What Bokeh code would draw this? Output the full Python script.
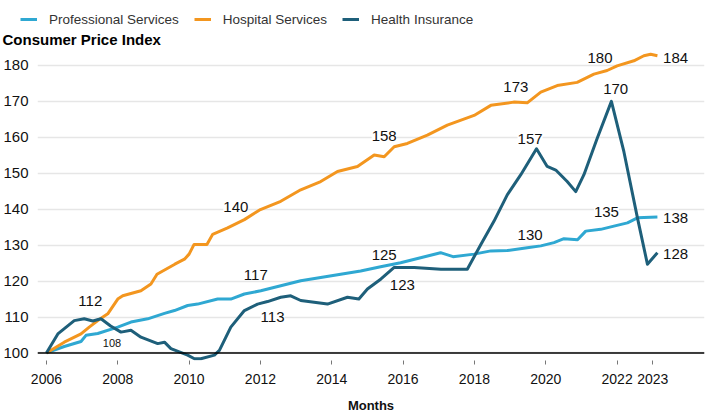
from bokeh.plotting import figure
from bokeh.models import (ColumnDataSource, Range1d, FixedTicker, Span, Legend,
                          LegendItem)
from bokeh.core.properties import value
from bokeh.embed import file_html
from bokeh.resources import INLINE

FONT = "Liberation Sans"

# ---- data ----
prof_x = [2006.0, 2006.5, 2006.97, 2007.11, 2007.44, 2008.0, 2008.37, 2008.84, 2009.31, 2009.59,
          2009.96, 2010.24, 2010.8, 2011.17, 2011.55, 2012.01, 2012.57, 2013.13, 2013.69, 2014.25,
          2014.81, 2015.37, 2015.93, 2016.49, 2017.05, 2017.4, 2017.99, 2018.46, 2018.92, 2019.48,
          2019.86, 2020.23, 2020.51, 2020.89, 2021.12, 2021.54, 2021.91, 2022.29, 2022.57, 2023.13]
prof_y = [100.0, 101.8, 103.2, 104.9, 105.4, 107.2, 108.6, 109.5, 111.0, 111.8,
          113.2, 113.6, 115.0, 115.0, 116.4, 117.3, 118.7, 120.1, 121.0, 121.9,
          122.8, 124.0, 125.1, 126.5, 127.9, 126.8, 127.5, 128.4, 128.5, 129.3,
          129.8, 130.7, 131.8, 131.5, 133.9, 134.4, 135.3, 136.2, 137.6, 137.8]

hosp_x = [2006.0, 2006.5, 2006.97, 2007.2, 2007.44, 2007.72, 2008.0, 2008.14, 2008.65, 2008.93,
          2009.1, 2009.6, 2009.87, 2010.0, 2010.14, 2010.5, 2010.66, 2011.08, 2011.55, 2012.0,
          2012.57, 2013.13, 2013.69, 2014.16, 2014.72, 2015.19, 2015.47, 2015.75, 2016.12, 2016.68,
          2017.24, 2017.99, 2018.46, 2019.1, 2019.48, 2019.86, 2020.32, 2020.88, 2021.35, 2021.72,
          2022.0, 2022.47, 2022.75, 2022.94, 2023.13]
hosp_y = [100.0, 103.0, 105.3, 107.2, 109.0, 110.9, 115.0, 115.9, 117.3, 119.2,
          121.9, 124.7, 126.1, 127.5, 130.2, 130.2, 133.0, 134.8, 137.1, 139.9,
          142.2, 145.4, 147.7, 150.5, 151.9, 155.1, 154.6, 157.4, 158.3, 160.6,
          163.4, 166.1, 168.9, 169.8, 169.6, 172.6, 174.4, 175.3, 177.6, 178.6,
          179.9, 181.3, 182.7, 183.1, 182.7]

ins_x = [2006.0, 2006.32, 2006.78, 2007.06, 2007.3, 2007.53, 2007.8, 2008.09, 2008.37, 2008.65,
         2009.12, 2009.31, 2009.49, 2009.96, 2010.15, 2010.33, 2010.71, 2010.85, 2011.17, 2011.55,
         2011.92, 2012.2, 2012.57, 2012.85, 2013.13, 2013.88, 2014.44, 2014.76, 2015.0, 2015.38,
         2015.75, 2016.31, 2017.06, 2017.8, 2018.18, 2018.55, 2018.92, 2019.3, 2019.74, 2020.04,
         2020.28, 2020.6, 2020.84, 2021.07, 2021.44, 2021.84, 2022.19, 2022.57, 2022.85, 2023.13]
ins_y = [100.0, 105.3, 109.0, 109.5, 108.9, 109.5, 107.5, 105.8, 106.3, 104.4,
         102.6, 103.0, 101.2, 99.4, 98.4, 98.4, 99.4, 100.7, 107.2, 111.8,
         113.6, 114.3, 115.5, 115.9, 114.6, 113.6, 115.5, 115.0, 117.8, 120.6,
         123.8, 123.8, 123.3, 123.3, 130.2, 136.7, 144.0, 149.6, 156.8, 151.9,
         150.9, 147.7, 144.9, 149.6, 159.7, 170.0, 156.0, 137.6, 124.7, 127.9]

series_names = ["Professional Services", "Hospital Services", "Health Insurance"]
series_colors = ["#2fa8d2", "#f3961f", "#1e5f7a"]

x_ticks = [2006, 2008, 2010, 2012, 2014, 2016, 2018, 2020, 2022, 2023]
y_ticks = [100, 110, 120, 130, 140, 150, 160, 170, 180]

ann_text = ["112", "140", "117", "113", "158", "125", "123", "173", "157", "130",
            "180", "170", "135", "184", "138", "128"]
ann_x = [2007.23, 2011.31, 2011.87, 2012.34, 2015.47, 2015.47, 2015.98, 2019.16, 2019.56, 2019.56,
         2021.52, 2021.96, 2021.70, 2023.64, 2023.64, 2023.64]
ann_y = [114.4, 140.6, 121.7, 109.9, 160.3, 127.3, 119.0, 174.0, 159.4, 132.8,
         182.2, 173.5, 139.1, 182.2, 137.6, 127.5]

small_text = ["108"]
small_x = [2007.84]
small_y = [102.8]

baseline = 100

# ---- legend strip (top, its own root so its frame is not aligned to the chart) ----
top = figure(width=727, height=28, output_backend="svg", toolbar_location=None,
             x_axis_type=None, y_axis_type=None, x_range=Range1d(0, 1), y_range=Range1d(0, 1),
             min_border=0)
top.outline_line_color = None
top.xgrid.visible = False
top.ygrid.visible = False
# legend proxies: lines placed outside the visible range, only their legend swatches show
proxies = [top.line(x=[5, 6], y=[5, 6], line_color=c, line_width=3) for c in series_colors]
legend = Legend(items=[LegendItem(label=n, renderers=[r]) for n, r in zip(series_names, proxies)],
                orientation="horizontal", location=(20, 1),
                label_text_font=FONT, label_text_font_size="13.5px", label_text_color="#333333",
                glyph_width=17, glyph_height=12, label_height=16, label_standoff=12, spacing=15,
                padding=0, margin=0, border_line_color=None, background_fill_alpha=0)
top.add_layout(legend, "center")

# ---- main chart ----
p = figure(width=727, height=389, output_backend="svg", toolbar_location=None,
           x_range=Range1d(2005.75, 2024.45), y_range=Range1d(97.9, 185.0),
           min_border_right=23, min_border_top=17, min_border_left=0, min_border_bottom=57)
p.outline_line_color = None

p.title.text = "Consumer Price Index"
p.title.text_font = FONT
p.title.text_font_size = "15px"
p.title.text_font_style = "bold"
p.title.text_color = "#000000"
p.title.align = "left"
p.title.offset = -35
p.title.standoff = 0

p.xaxis.ticker = FixedTicker(ticks=x_ticks)
p.xaxis.axis_line_color = None
p.xaxis.major_tick_line_color = "#777777"
p.xaxis.major_tick_out = 4
p.xaxis.major_tick_in = 0
p.xaxis.minor_tick_line_color = None
p.xaxis.major_label_text_font = FONT
p.xaxis.major_label_text_font_size = "14px"
p.xaxis.major_label_text_color = "#111111"
p.xaxis.major_label_standoff = 9
p.xaxis.axis_label = "Months"
p.xaxis.axis_label_text_font = FONT
p.xaxis.axis_label_text_font_style = "bold"
p.xaxis.axis_label_text_font_size = "13px"
p.xaxis.axis_label_text_color = "#111111"
p.xaxis.axis_label_standoff = 11

p.yaxis.ticker = FixedTicker(ticks=y_ticks)
p.yaxis.axis_line_color = None
p.yaxis.major_tick_line_color = None
p.yaxis.minor_tick_line_color = None
p.yaxis.major_label_text_font = FONT
p.yaxis.major_label_text_font_size = "15px"
p.yaxis.major_label_text_color = "#111111"
p.yaxis.major_label_standoff = 3

p.xgrid.grid_line_color = None
p.ygrid.grid_line_color = "#e6e6e6"
p.ygrid.grid_line_width = 1.5

p.add_layout(Span(location=baseline, dimension="width", line_color="black", line_width=1.5))

for xs, ys, col in [(prof_x, prof_y, series_colors[0]),
                    (hosp_x, hosp_y, series_colors[1]),
                    (ins_x, ins_y, series_colors[2])]:
    p.line(xs, ys, line_color=col, line_width=3, line_join="round")

src = ColumnDataSource(dict(x=ann_x, y=ann_y, t=ann_text))
p.text("x", "y", text="t", source=src, text_font=value(FONT), text_font_size="15px",
       text_align="center", text_baseline="middle", text_color="#111111",
       background_fill_color="white")
src2 = ColumnDataSource(dict(x=small_x, y=small_y, t=small_text))
p.text("x", "y", text="t", source=src2, text_font=value(FONT), text_font_size="11px",
       text_align="center", text_baseline="middle", text_color="#111111")

open("out.html", "w").write(file_html([top, p], INLINE))
